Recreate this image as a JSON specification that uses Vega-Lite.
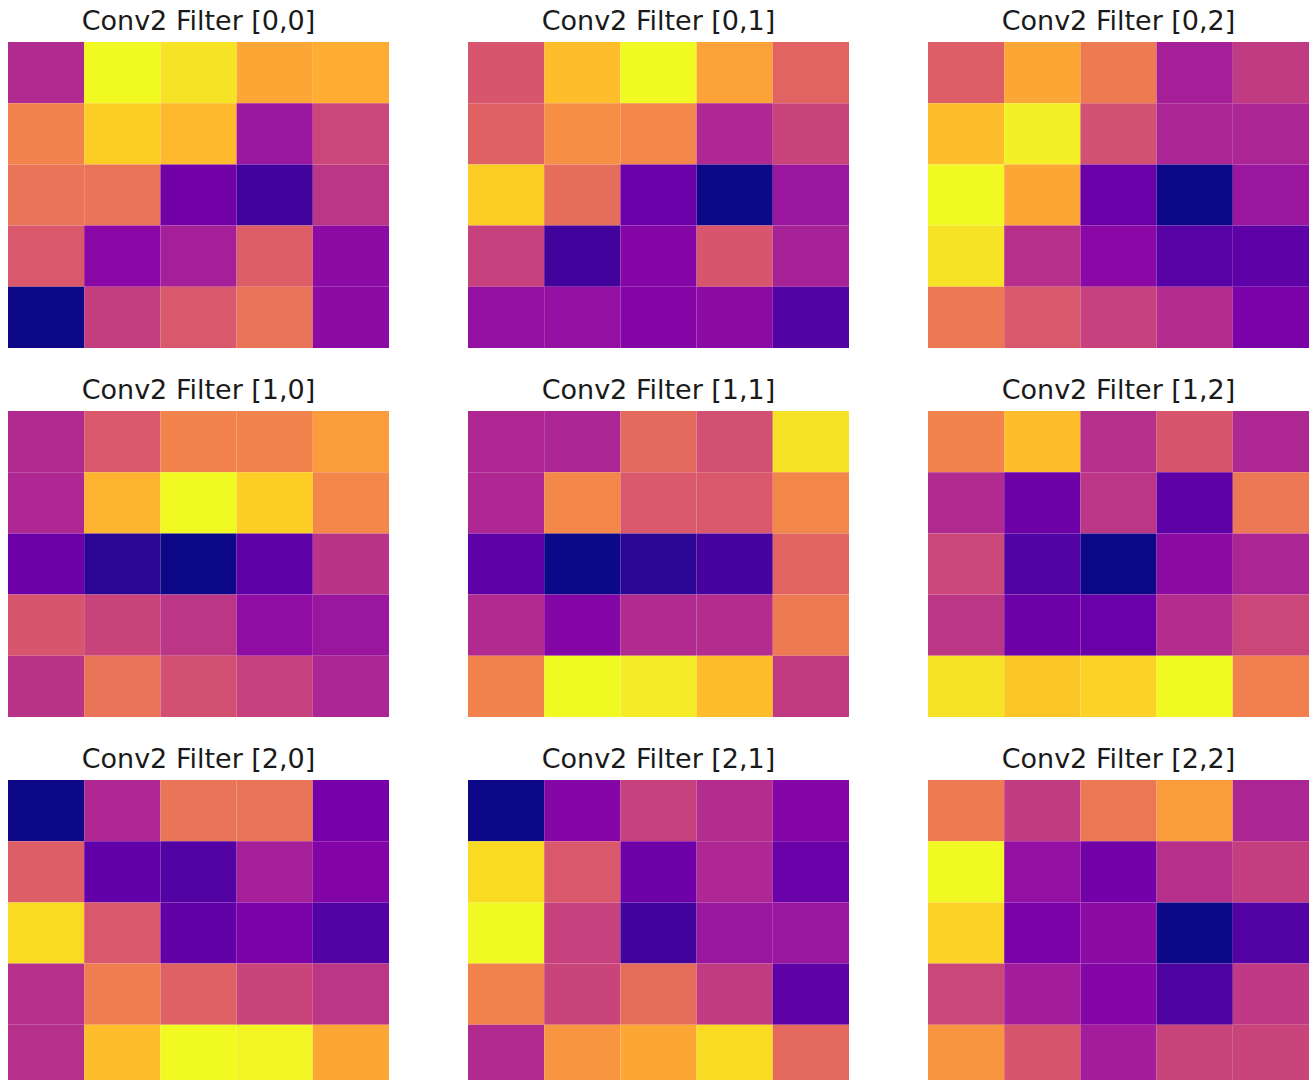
{
  "$schema": "https://vega.github.io/schema/vega-lite/v6.json",
  "padding": {"left": 8, "top": 8, "right": 0, "bottom": 0},
  "background": "white",
  "config": {"view": {"stroke": null}, "font": "DejaVu Sans"},
  "datasets": {
    "w": [
      {"f":"Conv2 Filter [0,0]","r":0,"c":0,"v":0.4},{"f":"Conv2 Filter [0,0]","r":0,"c":1,"v":1.0},{"f":"Conv2 Filter [0,0]","r":0,"c":2,"v":0.95},{"f":"Conv2 Filter [0,0]","r":0,"c":3,"v":0.8},{"f":"Conv2 Filter [0,0]","r":0,"c":4,"v":0.82},
      {"f":"Conv2 Filter [0,0]","r":1,"c":0,"v":0.7},{"f":"Conv2 Filter [0,0]","r":1,"c":1,"v":0.9},{"f":"Conv2 Filter [0,0]","r":1,"c":2,"v":0.85},{"f":"Conv2 Filter [0,0]","r":1,"c":3,"v":0.33},{"f":"Conv2 Filter [0,0]","r":1,"c":4,"v":0.5},
      {"f":"Conv2 Filter [0,0]","r":2,"c":0,"v":0.65},{"f":"Conv2 Filter [0,0]","r":2,"c":1,"v":0.65},{"f":"Conv2 Filter [0,0]","r":2,"c":2,"v":0.22},{"f":"Conv2 Filter [0,0]","r":2,"c":3,"v":0.1},{"f":"Conv2 Filter [0,0]","r":2,"c":4,"v":0.44},
      {"f":"Conv2 Filter [0,0]","r":3,"c":0,"v":0.56},{"f":"Conv2 Filter [0,0]","r":3,"c":1,"v":0.28},{"f":"Conv2 Filter [0,0]","r":3,"c":2,"v":0.36},{"f":"Conv2 Filter [0,0]","r":3,"c":3,"v":0.58},{"f":"Conv2 Filter [0,0]","r":3,"c":4,"v":0.29},
      {"f":"Conv2 Filter [0,0]","r":4,"c":0,"v":0.0},{"f":"Conv2 Filter [0,0]","r":4,"c":1,"v":0.47},{"f":"Conv2 Filter [0,0]","r":4,"c":2,"v":0.56},{"f":"Conv2 Filter [0,0]","r":4,"c":3,"v":0.65},{"f":"Conv2 Filter [0,0]","r":4,"c":4,"v":0.29},

      {"f":"Conv2 Filter [0,1]","r":0,"c":0,"v":0.55},{"f":"Conv2 Filter [0,1]","r":0,"c":1,"v":0.86},{"f":"Conv2 Filter [0,1]","r":0,"c":2,"v":1.0},{"f":"Conv2 Filter [0,1]","r":0,"c":3,"v":0.79},{"f":"Conv2 Filter [0,1]","r":0,"c":4,"v":0.6},
      {"f":"Conv2 Filter [0,1]","r":1,"c":0,"v":0.59},{"f":"Conv2 Filter [0,1]","r":1,"c":1,"v":0.73},{"f":"Conv2 Filter [0,1]","r":1,"c":2,"v":0.71},{"f":"Conv2 Filter [0,1]","r":1,"c":3,"v":0.39},{"f":"Conv2 Filter [0,1]","r":1,"c":4,"v":0.49},
      {"f":"Conv2 Filter [0,1]","r":2,"c":0,"v":0.9},{"f":"Conv2 Filter [0,1]","r":2,"c":1,"v":0.63},{"f":"Conv2 Filter [0,1]","r":2,"c":2,"v":0.2},{"f":"Conv2 Filter [0,1]","r":2,"c":3,"v":0.0},{"f":"Conv2 Filter [0,1]","r":2,"c":4,"v":0.33},
      {"f":"Conv2 Filter [0,1]","r":3,"c":0,"v":0.48},{"f":"Conv2 Filter [0,1]","r":3,"c":1,"v":0.1},{"f":"Conv2 Filter [0,1]","r":3,"c":2,"v":0.27},{"f":"Conv2 Filter [0,1]","r":3,"c":3,"v":0.55},{"f":"Conv2 Filter [0,1]","r":3,"c":4,"v":0.37},
      {"f":"Conv2 Filter [0,1]","r":4,"c":0,"v":0.31},{"f":"Conv2 Filter [0,1]","r":4,"c":1,"v":0.31},{"f":"Conv2 Filter [0,1]","r":4,"c":2,"v":0.27},{"f":"Conv2 Filter [0,1]","r":4,"c":3,"v":0.29},{"f":"Conv2 Filter [0,1]","r":4,"c":4,"v":0.14},

      {"f":"Conv2 Filter [0,2]","r":0,"c":0,"v":0.58},{"f":"Conv2 Filter [0,2]","r":0,"c":1,"v":0.8},{"f":"Conv2 Filter [0,2]","r":0,"c":2,"v":0.67},{"f":"Conv2 Filter [0,2]","r":0,"c":3,"v":0.36},{"f":"Conv2 Filter [0,2]","r":0,"c":4,"v":0.46},
      {"f":"Conv2 Filter [0,2]","r":1,"c":0,"v":0.86},{"f":"Conv2 Filter [0,2]","r":1,"c":1,"v":0.98},{"f":"Conv2 Filter [0,2]","r":1,"c":2,"v":0.53},{"f":"Conv2 Filter [0,2]","r":1,"c":3,"v":0.38},{"f":"Conv2 Filter [0,2]","r":1,"c":4,"v":0.38},
      {"f":"Conv2 Filter [0,2]","r":2,"c":0,"v":1.0},{"f":"Conv2 Filter [0,2]","r":2,"c":1,"v":0.8},{"f":"Conv2 Filter [0,2]","r":2,"c":2,"v":0.2},{"f":"Conv2 Filter [0,2]","r":2,"c":3,"v":0.0},{"f":"Conv2 Filter [0,2]","r":2,"c":4,"v":0.33},
      {"f":"Conv2 Filter [0,2]","r":3,"c":0,"v":0.95},{"f":"Conv2 Filter [0,2]","r":3,"c":1,"v":0.42},{"f":"Conv2 Filter [0,2]","r":3,"c":2,"v":0.28},{"f":"Conv2 Filter [0,2]","r":3,"c":3,"v":0.15},{"f":"Conv2 Filter [0,2]","r":3,"c":4,"v":0.17},
      {"f":"Conv2 Filter [0,2]","r":4,"c":0,"v":0.66},{"f":"Conv2 Filter [0,2]","r":4,"c":1,"v":0.56},{"f":"Conv2 Filter [0,2]","r":4,"c":2,"v":0.48},{"f":"Conv2 Filter [0,2]","r":4,"c":3,"v":0.41},{"f":"Conv2 Filter [0,2]","r":4,"c":4,"v":0.24},

      {"f":"Conv2 Filter [1,0]","r":0,"c":0,"v":0.4},{"f":"Conv2 Filter [1,0]","r":0,"c":1,"v":0.56},{"f":"Conv2 Filter [1,0]","r":0,"c":2,"v":0.7},{"f":"Conv2 Filter [1,0]","r":0,"c":3,"v":0.7},{"f":"Conv2 Filter [1,0]","r":0,"c":4,"v":0.77},
      {"f":"Conv2 Filter [1,0]","r":1,"c":0,"v":0.39},{"f":"Conv2 Filter [1,0]","r":1,"c":1,"v":0.83},{"f":"Conv2 Filter [1,0]","r":1,"c":2,"v":1.0},{"f":"Conv2 Filter [1,0]","r":1,"c":3,"v":0.9},{"f":"Conv2 Filter [1,0]","r":1,"c":4,"v":0.71},
      {"f":"Conv2 Filter [1,0]","r":2,"c":0,"v":0.21},{"f":"Conv2 Filter [1,0]","r":2,"c":1,"v":0.05},{"f":"Conv2 Filter [1,0]","r":2,"c":2,"v":0.0},{"f":"Conv2 Filter [1,0]","r":2,"c":3,"v":0.17},{"f":"Conv2 Filter [1,0]","r":2,"c":4,"v":0.43},
      {"f":"Conv2 Filter [1,0]","r":3,"c":0,"v":0.55},{"f":"Conv2 Filter [1,0]","r":3,"c":1,"v":0.49},{"f":"Conv2 Filter [1,0]","r":3,"c":2,"v":0.44},{"f":"Conv2 Filter [1,0]","r":3,"c":3,"v":0.3},{"f":"Conv2 Filter [1,0]","r":3,"c":4,"v":0.33},
      {"f":"Conv2 Filter [1,0]","r":4,"c":0,"v":0.43},{"f":"Conv2 Filter [1,0]","r":4,"c":1,"v":0.65},{"f":"Conv2 Filter [1,0]","r":4,"c":2,"v":0.53},{"f":"Conv2 Filter [1,0]","r":4,"c":3,"v":0.48},{"f":"Conv2 Filter [1,0]","r":4,"c":4,"v":0.38},

      {"f":"Conv2 Filter [1,1]","r":0,"c":0,"v":0.39},{"f":"Conv2 Filter [1,1]","r":0,"c":1,"v":0.38},{"f":"Conv2 Filter [1,1]","r":0,"c":2,"v":0.62},{"f":"Conv2 Filter [1,1]","r":0,"c":3,"v":0.53},{"f":"Conv2 Filter [1,1]","r":0,"c":4,"v":0.95},
      {"f":"Conv2 Filter [1,1]","r":1,"c":0,"v":0.39},{"f":"Conv2 Filter [1,1]","r":1,"c":1,"v":0.71},{"f":"Conv2 Filter [1,1]","r":1,"c":2,"v":0.56},{"f":"Conv2 Filter [1,1]","r":1,"c":3,"v":0.56},{"f":"Conv2 Filter [1,1]","r":1,"c":4,"v":0.71},
      {"f":"Conv2 Filter [1,1]","r":2,"c":0,"v":0.17},{"f":"Conv2 Filter [1,1]","r":2,"c":1,"v":0.0},{"f":"Conv2 Filter [1,1]","r":2,"c":2,"v":0.05},{"f":"Conv2 Filter [1,1]","r":2,"c":3,"v":0.11},{"f":"Conv2 Filter [1,1]","r":2,"c":4,"v":0.6},
      {"f":"Conv2 Filter [1,1]","r":3,"c":0,"v":0.4},{"f":"Conv2 Filter [1,1]","r":3,"c":1,"v":0.27},{"f":"Conv2 Filter [1,1]","r":3,"c":2,"v":0.4},{"f":"Conv2 Filter [1,1]","r":3,"c":3,"v":0.41},{"f":"Conv2 Filter [1,1]","r":3,"c":4,"v":0.67},
      {"f":"Conv2 Filter [1,1]","r":4,"c":0,"v":0.7},{"f":"Conv2 Filter [1,1]","r":4,"c":1,"v":1.0},{"f":"Conv2 Filter [1,1]","r":4,"c":2,"v":0.97},{"f":"Conv2 Filter [1,1]","r":4,"c":3,"v":0.86},{"f":"Conv2 Filter [1,1]","r":4,"c":4,"v":0.46},

      {"f":"Conv2 Filter [1,2]","r":0,"c":0,"v":0.7},{"f":"Conv2 Filter [1,2]","r":0,"c":1,"v":0.86},{"f":"Conv2 Filter [1,2]","r":0,"c":2,"v":0.42},{"f":"Conv2 Filter [1,2]","r":0,"c":3,"v":0.55},{"f":"Conv2 Filter [1,2]","r":0,"c":4,"v":0.39},
      {"f":"Conv2 Filter [1,2]","r":1,"c":0,"v":0.4},{"f":"Conv2 Filter [1,2]","r":1,"c":1,"v":0.21},{"f":"Conv2 Filter [1,2]","r":1,"c":2,"v":0.44},{"f":"Conv2 Filter [1,2]","r":1,"c":3,"v":0.17},{"f":"Conv2 Filter [1,2]","r":1,"c":4,"v":0.66},
      {"f":"Conv2 Filter [1,2]","r":2,"c":0,"v":0.5},{"f":"Conv2 Filter [1,2]","r":2,"c":1,"v":0.14},{"f":"Conv2 Filter [1,2]","r":2,"c":2,"v":0.0},{"f":"Conv2 Filter [1,2]","r":2,"c":3,"v":0.29},{"f":"Conv2 Filter [1,2]","r":2,"c":4,"v":0.38},
      {"f":"Conv2 Filter [1,2]","r":3,"c":0,"v":0.44},{"f":"Conv2 Filter [1,2]","r":3,"c":1,"v":0.21},{"f":"Conv2 Filter [1,2]","r":3,"c":2,"v":0.2},{"f":"Conv2 Filter [1,2]","r":3,"c":3,"v":0.41},{"f":"Conv2 Filter [1,2]","r":3,"c":4,"v":0.5},
      {"f":"Conv2 Filter [1,2]","r":4,"c":0,"v":0.95},{"f":"Conv2 Filter [1,2]","r":4,"c":1,"v":0.88},{"f":"Conv2 Filter [1,2]","r":4,"c":2,"v":0.91},{"f":"Conv2 Filter [1,2]","r":4,"c":3,"v":1.0},{"f":"Conv2 Filter [1,2]","r":4,"c":4,"v":0.69},

      {"f":"Conv2 Filter [2,0]","r":0,"c":0,"v":0.0},{"f":"Conv2 Filter [2,0]","r":0,"c":1,"v":0.39},{"f":"Conv2 Filter [2,0]","r":0,"c":2,"v":0.65},{"f":"Conv2 Filter [2,0]","r":0,"c":3,"v":0.65},{"f":"Conv2 Filter [2,0]","r":0,"c":4,"v":0.23},
      {"f":"Conv2 Filter [2,0]","r":1,"c":0,"v":0.58},{"f":"Conv2 Filter [2,0]","r":1,"c":1,"v":0.18},{"f":"Conv2 Filter [2,0]","r":1,"c":2,"v":0.14},{"f":"Conv2 Filter [2,0]","r":1,"c":3,"v":0.36},{"f":"Conv2 Filter [2,0]","r":1,"c":4,"v":0.26},
      {"f":"Conv2 Filter [2,0]","r":2,"c":0,"v":0.93},{"f":"Conv2 Filter [2,0]","r":2,"c":1,"v":0.56},{"f":"Conv2 Filter [2,0]","r":2,"c":2,"v":0.18},{"f":"Conv2 Filter [2,0]","r":2,"c":3,"v":0.24},{"f":"Conv2 Filter [2,0]","r":2,"c":4,"v":0.14},
      {"f":"Conv2 Filter [2,0]","r":3,"c":0,"v":0.42},{"f":"Conv2 Filter [2,0]","r":3,"c":1,"v":0.68},{"f":"Conv2 Filter [2,0]","r":3,"c":2,"v":0.59},{"f":"Conv2 Filter [2,0]","r":3,"c":3,"v":0.49},{"f":"Conv2 Filter [2,0]","r":3,"c":4,"v":0.44},
      {"f":"Conv2 Filter [2,0]","r":4,"c":0,"v":0.42},{"f":"Conv2 Filter [2,0]","r":4,"c":1,"v":0.86},{"f":"Conv2 Filter [2,0]","r":4,"c":2,"v":1.0},{"f":"Conv2 Filter [2,0]","r":4,"c":3,"v":0.99},{"f":"Conv2 Filter [2,0]","r":4,"c":4,"v":0.8},

      {"f":"Conv2 Filter [2,1]","r":0,"c":0,"v":0.0},{"f":"Conv2 Filter [2,1]","r":0,"c":1,"v":0.27},{"f":"Conv2 Filter [2,1]","r":0,"c":2,"v":0.48},{"f":"Conv2 Filter [2,1]","r":0,"c":3,"v":0.41},{"f":"Conv2 Filter [2,1]","r":0,"c":4,"v":0.27},
      {"f":"Conv2 Filter [2,1]","r":1,"c":0,"v":0.93},{"f":"Conv2 Filter [2,1]","r":1,"c":1,"v":0.56},{"f":"Conv2 Filter [2,1]","r":1,"c":2,"v":0.21},{"f":"Conv2 Filter [2,1]","r":1,"c":3,"v":0.39},{"f":"Conv2 Filter [2,1]","r":1,"c":4,"v":0.2},
      {"f":"Conv2 Filter [2,1]","r":2,"c":0,"v":1.0},{"f":"Conv2 Filter [2,1]","r":2,"c":1,"v":0.48},{"f":"Conv2 Filter [2,1]","r":2,"c":2,"v":0.1},{"f":"Conv2 Filter [2,1]","r":2,"c":3,"v":0.33},{"f":"Conv2 Filter [2,1]","r":2,"c":4,"v":0.33},
      {"f":"Conv2 Filter [2,1]","r":3,"c":0,"v":0.7},{"f":"Conv2 Filter [2,1]","r":3,"c":1,"v":0.49},{"f":"Conv2 Filter [2,1]","r":3,"c":2,"v":0.63},{"f":"Conv2 Filter [2,1]","r":3,"c":3,"v":0.46},{"f":"Conv2 Filter [2,1]","r":3,"c":4,"v":0.17},
      {"f":"Conv2 Filter [2,1]","r":4,"c":0,"v":0.4},{"f":"Conv2 Filter [2,1]","r":4,"c":1,"v":0.75},{"f":"Conv2 Filter [2,1]","r":4,"c":2,"v":0.8},{"f":"Conv2 Filter [2,1]","r":4,"c":3,"v":0.93},{"f":"Conv2 Filter [2,1]","r":4,"c":4,"v":0.62},

      {"f":"Conv2 Filter [2,2]","r":0,"c":0,"v":0.67},{"f":"Conv2 Filter [2,2]","r":0,"c":1,"v":0.46},{"f":"Conv2 Filter [2,2]","r":0,"c":2,"v":0.66},{"f":"Conv2 Filter [2,2]","r":0,"c":3,"v":0.77},{"f":"Conv2 Filter [2,2]","r":0,"c":4,"v":0.38},
      {"f":"Conv2 Filter [2,2]","r":1,"c":0,"v":1.0},{"f":"Conv2 Filter [2,2]","r":1,"c":1,"v":0.31},{"f":"Conv2 Filter [2,2]","r":1,"c":2,"v":0.22},{"f":"Conv2 Filter [2,2]","r":1,"c":3,"v":0.42},{"f":"Conv2 Filter [2,2]","r":1,"c":4,"v":0.47},
      {"f":"Conv2 Filter [2,2]","r":2,"c":0,"v":0.91},{"f":"Conv2 Filter [2,2]","r":2,"c":1,"v":0.24},{"f":"Conv2 Filter [2,2]","r":2,"c":2,"v":0.29},{"f":"Conv2 Filter [2,2]","r":2,"c":3,"v":0.0},{"f":"Conv2 Filter [2,2]","r":2,"c":4,"v":0.14},
      {"f":"Conv2 Filter [2,2]","r":3,"c":0,"v":0.5},{"f":"Conv2 Filter [2,2]","r":3,"c":1,"v":0.35},{"f":"Conv2 Filter [2,2]","r":3,"c":2,"v":0.27},{"f":"Conv2 Filter [2,2]","r":3,"c":3,"v":0.13},{"f":"Conv2 Filter [2,2]","r":3,"c":4,"v":0.45},
      {"f":"Conv2 Filter [2,2]","r":4,"c":0,"v":0.75},{"f":"Conv2 Filter [2,2]","r":4,"c":1,"v":0.55},{"f":"Conv2 Filter [2,2]","r":4,"c":2,"v":0.35},{"f":"Conv2 Filter [2,2]","r":4,"c":3,"v":0.49},{"f":"Conv2 Filter [2,2]","r":4,"c":4,"v":0.49}
    ]
  },
  "data": {"name": "w"},
  "columns": 3,
  "spacing": {"row": 29, "column": 79},
  "facet": {
    "field": "f",
    "type": "nominal",
    "header": {"title": null, "labelFont": "DejaVu Sans", "labelFontSize": 27, "labelColor": "#1a1a1a", "labelPadding": 6, "labelBaseline": "top"}
  },
  "spec": {
    "width": 381,
    "height": 306,
    "mark": {"type": "rect", "strokeWidth": 0},
    "encoding": {
      "x": {"field": "c", "type": "ordinal", "axis": null, "scale": {"paddingInner": 0, "paddingOuter": 0}},
      "y": {"field": "r", "type": "ordinal", "axis": null, "scale": {"paddingInner": 0, "paddingOuter": 0}},
      "color": {"field": "v", "type": "quantitative", "scale": {"scheme": "plasma", "domain": [0, 1]}, "legend": null}
    }
  }
}
